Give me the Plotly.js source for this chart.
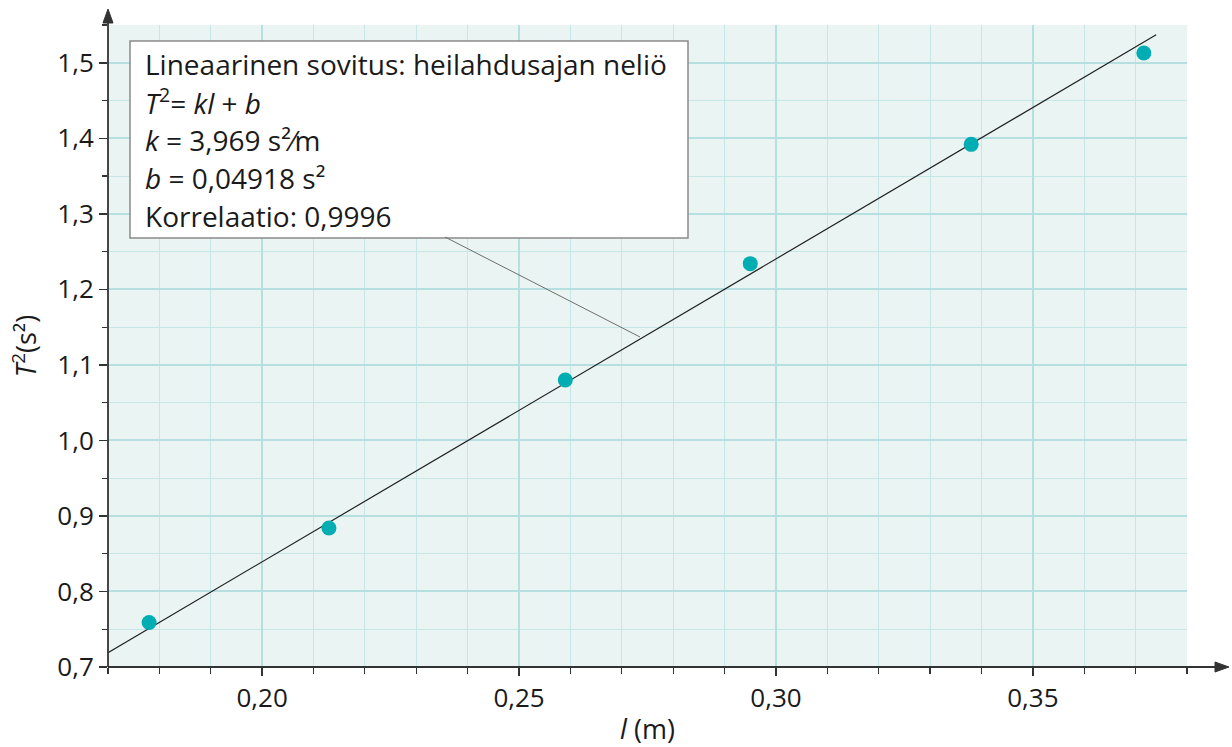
<!DOCTYPE html>
<html>
<head>
<meta charset="utf-8">
<script src="https://cdn.plot.ly/plotly-3.0.1.min.js"></script>
<style>html,body{margin:0;padding:0;background:#fff;}#chart{width:1232px;height:747px;}</style>
</head>
<body>
<div id="chart"></div>
<script>
// Measured pendulum data: length l (m) and period squared T^2 (s^2)
const lengths = [0.178, 0.213, 0.259, 0.295, 0.338, 0.3716];
const periodSq = [0.759, 0.884, 1.080, 1.234, 1.392, 1.513];
// Fitted line end points as drawn
const fitX = [0.17, 0.374];
const fitY = [0.719, 1.537];
// Box text lines
const boxLines = [
  'Lineaarinen sovitus: heilahdusajan neliö',
  '<i>T</i><sup>2</sup>= <i>kl</i> + <i>b</i>',
  '<i>k</i> = 3,969 s²⁄m',
  '<i>b</i> = 0,04918 s²',
  'Korrelaatio: 0,9996'
];
const xTitle = '<i>l</i> (m)';
const yTitle = '<i>T</i><sup>2</sup>(s²)';

const FONT = 'Open Sans, Noto Sans, sans-serif';
const TXT = '#1a1a1a';
const AX = '#333333';

const traces = [
  {x: fitX, y: fitY, mode: 'lines', line: {color: '#222', width: 1.2}, hoverinfo: 'skip'},
  {x: lengths, y: periodSq, mode: 'markers', marker: {color: '#00adb2', size: 15}}
];

const plotL = 108, plotR = 1187, plotT = 25, plotB = 667;
const pw = plotR - plotL, ph = plotB - plotT;
const px = v => (v - plotL) / pw;
const py = v => (plotB - v) / ph;

const annotations = boxLines.map((t, i) => ({
  xref: 'paper', yref: 'paper', x: px(143), y: py(64 + i * 38),
  xanchor: 'left', yanchor: 'middle', showarrow: false, text: t,
  font: {family: FONT, size: 28, color: TXT}
}));

const tri = pts => 'M' + pts.map(p => px(p[0]) + ',' + py(p[1])).join(' L') + ' Z';

const layout = {
  width: 1232, height: 747,
  margin: {l: plotL, r: 1232 - plotR, t: plotT, b: 747 - plotB},
  paper_bgcolor: '#ffffff',
  plot_bgcolor: '#eaf4f3',
  separators: ', ',
  showlegend: false,
  font: {family: FONT, color: TXT, size: 26},
  xaxis: {
    range: [0.17, 0.38], dtick: 0.05, tick0: 0.2, tickformat: '.2f',
    showline: false, zeroline: false,
    ticks: 'outside', ticklen: 8, tickwidth: 1.5, tickcolor: AX,
    showgrid: true, gridcolor: '#b6dfe2', gridwidth: 2,
    minor: {dtick: 0.01, tick0: 0.2, ticks: 'outside', ticklen: 6, tickwidth: 1.2, tickcolor: AX,
      showgrid: true, gridcolor: '#c6e6e8', gridwidth: 1},
    tickfont: {family: FONT, size: 26, color: TXT},
    title: {text: xTitle, font: {family: FONT, size: 27, color: TXT}, standoff: 6}
  },
  yaxis: {
    range: [0.7, 1.55], dtick: 0.1, tick0: 0.7, tickformat: '.1f',
    showline: false, zeroline: false,
    ticks: 'outside', ticklen: 8, tickwidth: 1.5, tickcolor: AX,
    showgrid: true, gridcolor: '#b6dfe2', gridwidth: 2,
    minor: {dtick: 0.05, tick0: 0.7, ticks: 'outside', ticklen: 5, tickwidth: 1.2, tickcolor: AX,
      showgrid: true, gridcolor: '#c6e6e8', gridwidth: 1},
    tickfont: {family: FONT, size: 26, color: TXT},
    title: {text: yTitle, font: {family: FONT, size: 27, color: TXT}, standoff: 12}
  },
  shapes: [
    {type: 'rect', xref: 'paper', yref: 'paper', x0: px(130), x1: px(688), y0: py(238), y1: py(41),
      fillcolor: '#ffffff', line: {color: '#8a8a8a', width: 1.5}, layer: 'above'},
    {type: 'line', xref: 'paper', yref: 'paper', x0: px(445), y0: py(237), x1: px(640), y1: py(337),
      line: {color: '#6e6e6e', width: 1}, layer: 'above'},
    // axis lines with arrowheads
    {type: 'line', xref: 'paper', yref: 'paper', x0: 0, y0: 0, x1: px(1222), y1: 0,
      line: {color: AX, width: 1.8}, layer: 'above'},
    {type: 'line', xref: 'paper', yref: 'paper', x0: 0, y0: 0, x1: 0, y1: py(16),
      line: {color: AX, width: 1.8}, layer: 'above'},
    {type: 'path', xref: 'paper', yref: 'paper', path: tri([[1229, 667], [1215, 662], [1215, 672]]),
      fillcolor: AX, line: {color: AX, width: 1}, layer: 'above'},
    {type: 'path', xref: 'paper', yref: 'paper', path: tri([[108, 9], [103, 23], [113, 23]]),
      fillcolor: AX, line: {color: AX, width: 1}, layer: 'above'}
  ],
  annotations: annotations
};

Plotly.newPlot('chart', traces, layout, {displayModeBar: false, staticPlot: true});
</script>
</body>
</html>
